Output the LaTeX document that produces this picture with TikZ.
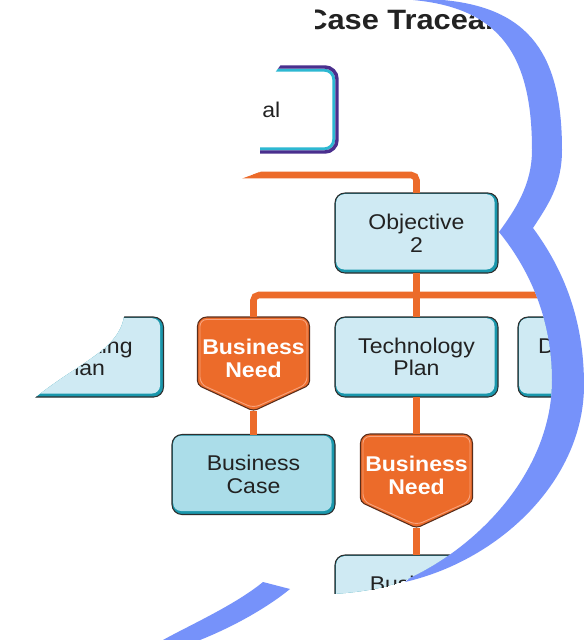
\documentclass[tikz,border=0pt]{standalone}
\usepackage{fontspec}
\setmainfont{Liberation Sans}
\newfontfamily\boxfont[FakeStretch=1.08]{Liberation Sans}
\newfontfamily\titlefont[FakeStretch=1.1]{Liberation Sans}
\definecolor{lb}{HTML}{CFEAF3}
\definecolor{lbd}{HTML}{ABDDE9}
\definecolor{teal2}{HTML}{1A97AC}
\definecolor{edge}{HTML}{2E2E2E}
\definecolor{org}{HTML}{EC6B2A}
\definecolor{orgdark}{HTML}{5A2E1C}
\definecolor{orglight}{HTML}{F7A27C}
\definecolor{gpurple}{HTML}{4A2F8E}
\definecolor{gcyan}{HTML}{2DB8D2}
\definecolor{bandblue}{HTML}{7692FA}
\definecolor{ink}{HTML}{222222}
\newcommand\bneed[3]{%
  \draw[bnbody] (#2,#3) [rounded corners=7pt] -- (#2+56,#3) [rounded corners=3pt] -- (#2+56,#3+68) -- (#2,#3+94) -- (#2-56,#3+68) [rounded corners=7pt] -- (#2-56,#3) -- cycle;
  \draw[bnring, rounded corners=5pt] (#2,#3+2.5) -- (#2+53.5,#3+2.5) -- (#2+53.5,#3+67) -- (#2,#3+91) -- (#2-53.5,#3+67) -- (#2-53.5,#3+2.5) -- cycle;
  \node[bnnode, anchor=north, label={[bnlab, yshift=4pt]center:Business\\Need}] (#1) at (#2,#3) {};
}
\begin{document}
\begin{tikzpicture}[x=0.75pt,y=-0.75pt,
  tbox/.style={rectangle, rounded corners=7.5pt, minimum width=122.25pt, minimum height=60pt,
    inner sep=0pt, outer sep=0pt, fill=teal2, draw=edge, line width=0.8pt, text=ink, align=center,
    font={\boxfont\fontsize{16pt}{17pt}\selectfont},
    path picture={\fill[#1, rounded corners=6pt]
      ([shift={(0.9pt,-0.9pt)}]path picture bounding box.north west) rectangle
      ([shift={(-2.6pt,2.6pt)}]path picture bounding box.south east);}},
  tbox/.default=lb,
  gbox/.style={rectangle, rounded corners=9pt, minimum width=121.5pt, minimum height=63.75pt,
    inner sep=0pt, outer sep=0pt, fill=white, draw=gpurple, line width=2.6pt, text=ink, align=center,
    font={\boxfont\fontsize{16pt}{17pt}\selectfont},
    path picture={\draw[gcyan, line width=2.2pt, rounded corners=7pt]
      ([shift={(2.4pt,-2.4pt)}]path picture bounding box.north west) rectangle
      ([shift={(-2.4pt,2.4pt)}]path picture bounding box.south east);}},
  bnbody/.style={fill=org, draw=orgdark, line width=0.8pt},
  bnring/.style={draw=orglight, line width=0.7pt},
  bnnode/.style={rectangle, minimum width=84pt, minimum height=70.5pt, inner sep=0pt, outer sep=0pt},
  bnlab/.style={text=white, font={\boxfont\bfseries\fontsize{16pt}{17pt}\selectfont}, align=center, inner sep=0pt},
  conn/.style={draw=org, line width=4.9pt},
  ttl/.style={font={\titlefont\fontsize{21pt}{24pt}\selectfont\bfseries}, text=ink, inner sep=0pt}
]
\useasboundingbox (0,0) rectangle (584,640);
\fill[white] (0,0) rectangle (584,640);

\begin{scope}
\clip (315,0) -- (315,34) .. controls (292,50) and (266,75) .. (262,105) -- (260,152) -- (263,171) -- (238,180) -- (124,317)
  .. controls (118,350) and (80,362) .. (36,397) -- (0,425) -- (0,600) -- (333,594)
  .. controls (365,592) and (390,587) .. (410,578)
  .. controls (480,545) and (552,470) .. (552,380)
  .. controls (552,320) and (530,270) .. (499,232)
  .. controls (515,210) and (532,185) .. (532,150)
  .. controls (532,55) and (500,8) .. (413,0)
  -- cycle;

\node[ttl, anchor=base west] (title) at (305,29) {Case Traceability};

\node[gbox] (goal) at (256,109.5) {Goal};
\node[tbox] (obj2) at (416.5,233) {Objective\\2};
\node[tbox] (mkt) at (82,357) {Marketing\\Plan};
\node[tbox] (tp) at (416.5,357) {Technology\\Plan};
\node[tbox] (dbox) at (599.5,357) {Deployment\\Plan};
\node[tbox=lbd] (bcase) at (253.5,474.5) {Business\\Case};
\node[tbox] (bu) at (416.5,595) {Business\\Case};
\bneed{bn1}{253.5}{317}
\bneed{bn2}{416.5}{434}

\coordinate (bus1) at (256,175);
\coordinate (bus1l) at (140,175);
\coordinate (bus2) at (416.5,295);
\draw[conn] (goal.south) -- (bus1);
\draw[conn, rounded corners=4pt] (bus1l) -| (obj2.north);
\draw[conn] (obj2.south) -- (tp.north);
\draw[conn, rounded corners=4pt] (bn1.north) |- (bus2) -| (dbox.north);
\draw[conn] (bn1.south) -- (bcase.north);
\draw[conn] (tp.south) -- (bn2.north);
\draw[conn] (bn2.south) -- (bu.north);
\end{scope}

% blue crescent
\fill[bandblue] (413,0) .. controls (500,8) and (532,55) .. (532,150)
  .. controls (532,185) and (515,210) .. (499,232)
  .. controls (530,270) and (552,320) .. (552,380)
  .. controls (552,470) and (480,545) .. (410,578)
  -- (405,582)
  .. controls (500,560) and (584,480) .. (584,385)
  .. controls (584,320) and (564,270) .. (533,228)
  .. controls (548,205) and (562,185) .. (562,150)
  .. controls (562,55) and (530,8) .. (443,0)
  -- cycle;
\fill[bandblue] (263,582) -- (290,589) .. controls (268,607) and (235,626) .. (200,640) -- (163,640)
  .. controls (190,625) and (235,605) .. (263,582) -- cycle;
\end{tikzpicture}
\end{document}
